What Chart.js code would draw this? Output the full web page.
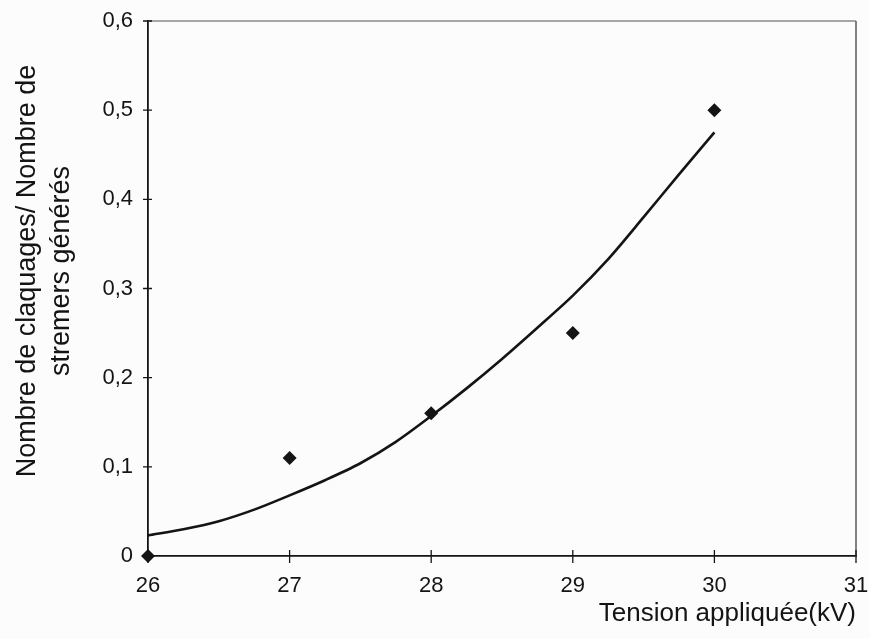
<!DOCTYPE html>
<html>
<head>
<meta charset="utf-8">
<script src="https://cdn.jsdelivr.net/npm/chart.js@4/dist/chart.umd.min.js"></script>
<style>
  html, body { margin: 0; padding: 0; background: #fcfcfc; }
  #wrap { width: 870px; height: 639px; position: relative; }
  #c { display: block; width: 870px; height: 639px; }
</style>
</head>
<body>
<div id="wrap"><canvas id="c" width="870" height="639"></canvas></div>
<script>
// Measured ratio of breakdowns to generated streamers
const tensionKV = [26, 27, 28, 29, 30];
const ratioMeasured = [0, 0.11, 0.16, 0.25, 0.5];

// Trend curve through the measurements
const trendKV = [26, 26.25, 26.5, 26.75, 27, 27.25, 27.5, 27.75, 28, 28.25, 28.5, 28.75, 29, 29.25, 29.5, 29.75, 30];
const trendRatio = [0.023, 0.030, 0.039, 0.052, 0.068, 0.085, 0.104, 0.128, 0.157, 0.188, 0.221, 0.256, 0.292, 0.333, 0.380, 0.428, 0.475];

const xTicks = [26, 27, 28, 29, 30, 31];
const yTicks = [0, 0.1, 0.2, 0.3, 0.4, 0.5, 0.6];

const yTitleLines = ['Nombre de claquages/ Nombre de', 'stremers générés'];
const xTitle = 'Tension appliquée(kV)';

const FONT = '"Liberation Sans", Arial, sans-serif';
const INK = '#141414';

// Frame (grey top/right edges), crossing tick marks and the two-line y title
const framePlugin = {
  id: 'frame',
  beforeDatasetsDraw(chart) {
    const { ctx, chartArea: a, scales } = chart;
    ctx.save();
    ctx.strokeStyle = '#8a8a8a';
    ctx.lineWidth = 1.5;
    ctx.beginPath();
    ctx.moveTo(a.left, a.top);
    ctx.lineTo(a.right, a.top);
    ctx.stroke();
    ctx.strokeStyle = '#5a5a5a';
    ctx.beginPath();
    ctx.moveTo(a.right, a.top);
    ctx.lineTo(a.right, a.bottom);
    ctx.stroke();

    ctx.strokeStyle = INK;
    ctx.lineWidth = 1.3;
    ctx.beginPath();
    xTicks.forEach(v => {
      const px = scales.x.getPixelForValue(v);
      ctx.moveTo(px, a.bottom - 6);
      ctx.lineTo(px, a.bottom + 7);
    });
    yTicks.forEach(v => {
      const py = scales.y.getPixelForValue(v);
      ctx.moveTo(a.left - 5, py);
      ctx.lineTo(a.left + 4, py);
    });
    ctx.stroke();
    ctx.restore();
  },
  afterDraw(chart) {
    const { ctx } = chart;
    ctx.save();
    ctx.fillStyle = INK;
    ctx.font = '27px ' + FONT;
    ctx.textAlign = 'center';
    ctx.textBaseline = 'middle';
    ctx.translate(0, 271);
    ctx.rotate(-Math.PI / 2);
    ctx.fillText(yTitleLines[0], 0, 28);
    ctx.fillText(yTitleLines[1], 0, 62);
    ctx.restore();
  }
};

new Chart(document.getElementById('c'), {
  type: 'scatter',
  data: {
    datasets: [
      {
        label: 'tendance',
        type: 'line',
        data: trendKV.map((x, i) => ({ x, y: trendRatio[i] })),
        borderColor: INK,
        borderWidth: 2.6,
        pointRadius: 0,
        fill: false,
        tension: 0.3,
        order: 2
      },
      {
        label: 'mesures',
        data: tensionKV.map((x, i) => ({ x, y: ratioMeasured[i] })),
        pointStyle: 'rectRot',
        pointRadius: 7,
        pointHoverRadius: 7,
        backgroundColor: INK,
        borderColor: INK,
        borderWidth: 0,
        clip: false,
        order: 1
      }
    ]
  },
  options: {
    responsive: false,
    maintainAspectRatio: false,
    animation: false,
    devicePixelRatio: 1,
    layout: { padding: { top: 21, right: 14, left: 0, bottom: 0 } },
    plugins: {
      legend: { display: false },
      tooltip: { enabled: false }
    },
    scales: {
      x: {
        type: 'linear',
        min: 26,
        max: 31,
        afterFit(s) { s.height = 83; s.paddingLeft = 0; s.paddingRight = 0; },
        afterBuildTicks(s) { s.ticks = xTicks.map(v => ({ value: v })); },
        grid: { display: true, drawOnChartArea: false, drawTicks: false },
        border: { display: true, color: INK, width: 1.8 },
        ticks: {
          color: INK,
          font: { family: FONT, size: 22 },
          padding: 17,
          callback: v => String(v)
        },
        title: {
          display: true,
          text: xTitle,
          align: 'end',
          color: INK,
          font: { family: FONT, size: 26 },
          padding: { top: 0, bottom: 10 }
        }
      },
      y: {
        type: 'linear',
        min: 0,
        max: 0.6,
        afterFit(s) { s.width = 148; s.paddingTop = 0; s.paddingBottom = 0; },
        afterBuildTicks(s) { s.ticks = yTicks.map(v => ({ value: v })); },
        grid: { display: true, drawOnChartArea: false, drawTicks: false },
        border: { display: true, color: INK, width: 1.8 },
        ticks: {
          color: INK,
          font: { family: FONT, size: 22 },
          padding: 15,
          callback: v => (v === 0 ? '0' : v.toFixed(1).replace('.', ','))
        }
      }
    }
  },
  plugins: [framePlugin]
});
</script>
</body>
</html>
